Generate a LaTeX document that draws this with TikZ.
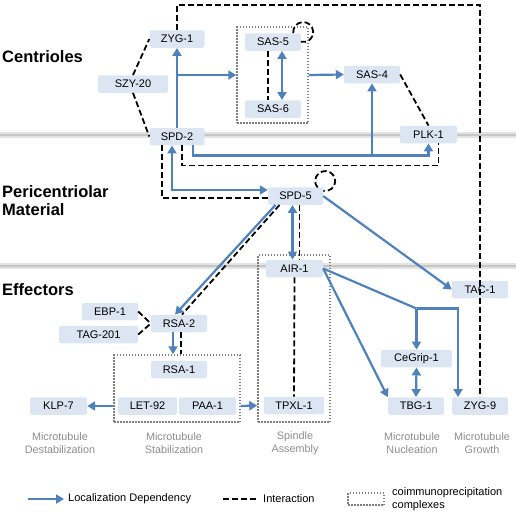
\documentclass[tikz,border=0pt]{standalone}
\usepackage{fontspec}
\setmainfont{Liberation Sans}
\usetikzlibrary{arrows.meta}
\definecolor{boxblue}{HTML}{DCE6F2}
\definecolor{arrblue}{HTML}{4F81BD}
\definecolor{lblgray}{HTML}{8C8C8C}
\definecolor{dotgray}{HTML}{7F7F7F}
\begin{document}
\begin{tikzpicture}[x=1pt,y=-1pt,
  prot/.style={fill=boxblue, rounded corners=2pt, minimum height=17.5pt, inner sep=0pt, font=\fontsize{11}{13}\selectfont},
  barrow/.style={draw=arrblue, line width=2.2pt, -{Triangle[length=8pt,width=9pt]}},
  bdarrow/.style={draw=arrblue, line width=2.2pt, {Triangle[length=8pt,width=9pt]}-{Triangle[length=8pt,width=9pt]}},
  bline/.style={draw=arrblue, line width=2.2pt, line join=miter},
  idash/.style={draw=black, line width=1.8pt, dash pattern=on 6pt off 3pt},
  cbox/.style={draw=dotgray, line width=1.5pt, dash pattern=on 1.5pt off 1.5pt},
  lbl/.style={text=lblgray, align=center, font=\fontsize{10.8}{12.8}\selectfont},
  legtxt/.style={anchor=west, inner sep=0pt, font=\fontsize{11}{13}\selectfont},
  head/.style={anchor=base west, inner sep=0pt, font=\fontsize{16.5}{18}\selectfont\bfseries}
]
\useasboundingbox (0,0) rectangle (516,517);
% bands
\foreach \yy in {135,266}{
  \draw[line width=6pt, color=gray!22] (0,\yy) -- (516,\yy);
  \draw[line width=2pt, color=gray!45] (0,\yy) -- (516,\yy);
}
% headings
\node[head] (h1) at (2,62) {Centrioles};
\node[head] (h2) at (2,197) {Pericentriolar};
\node[head] (h3) at (2,215) {Material};
\node[head] (h4) at (2,295) {Effectors};

% complex boxes
\node[cbox, minimum width=71pt, minimum height=96pt, inner sep=0pt] (sasbox) at (272.5,75) {};
\node[cbox, minimum width=126pt, minimum height=67pt, inner sep=0pt] (stabbox) at (177,388.5) {};
\node[cbox, minimum width=72pt, minimum height=167pt, inner sep=0pt] (spinbox) at (294,338.5) {};

% proteins
\node[prot, minimum width=55pt] (zyg1) at (177,39) {ZYG-1};
\node[prot, minimum width=70pt] (szy20) at (133,84) {SZY-20};
\node[prot, minimum width=55pt] (spd2) at (177,136.5) {SPD-2};
\node[prot, minimum width=56pt] (sas5) at (273,42) {SAS-5};
\node[prot, minimum width=56pt] (sas6) at (273,109) {SAS-6};
\node[prot, minimum width=56pt] (sas4) at (372,74.5) {SAS-4};
\node[prot, minimum width=57pt] (plk1) at (428.5,134.5) {PLK-1};
\node[prot, minimum width=55pt] (spd5) at (295.5,196) {SPD-5};
\node[prot, minimum width=57pt] (air1) at (294.5,268.5) {AIR-1};
\node[prot, minimum width=60pt] (tpxl1) at (294,405.5) {TPXL-1};
\node[prot, minimum width=56pt] (rsa2) at (179,323.5) {RSA-2};
\node[prot, minimum width=56pt] (ebp1) at (110,311.5) {EBP-1};
\node[prot, minimum width=79pt] (tag201) at (98.5,334.5) {TAG-201};
\node[prot, minimum width=56pt] (rsa1) at (179,369.5) {RSA-1};
\node[prot, minimum width=57pt] (klp7) at (58.5,406) {KLP-7};
\node[prot, minimum width=59pt] (let92) at (147.5,406) {LET-92};
\node[prot, minimum width=57pt] (paa1) at (207.5,406) {PAA-1};
\node[prot, minimum width=56pt] (tac1) at (480,289.5) {TAC-1};
\node[prot, minimum width=71pt] (cegrip1) at (416.5,358.5) {CeGrip-1};
\node[prot, minimum width=56pt] (tbg1) at (416,406) {TBG-1};
\node[prot, minimum width=56pt] (zyg9) at (480,406) {ZYG-9};

% interactions (dashed)
\draw[idash] (zyg1.north) -- ++(0,-25) -| (zyg9.north);
\draw[idash] (szy20.north) -- (zyg1.west);
\draw[idash] (szy20.south) -- (spd2.west);
\draw[idash] (sas4.east) -- (plk1.north);
\draw[idash] ([xshift=-5pt]sas5.south) -- ([xshift=-5pt]sas6.north);
\draw[idash] ([shift={(2pt,1pt)}]sas5.north east) ++(186:10pt) arc[start angle=186, end angle=-103, radius=10pt];
\draw[idash] ([shift={(2pt,6pt)}]spd5.north east) ++(220:10pt) arc[start angle=220, end angle=-101, radius=10pt];
\draw[idash] ([xshift=5pt]spd2.south) -- ++(0,20) -| ([xshift=10pt]plk1.south);
\draw[idash] ([xshift=-15pt]spd2.south) |- ([yshift=-2pt]spd5.west);
\draw[idash] ([xshift=4pt]spd5.south) -- ([xshift=4pt]spd5.south |- air1.north);
\draw[idash] ([xshift=-16pt]spd5.south) -- ([xshift=3pt]rsa2.north);
\draw[idash] (air1.south) -- (tpxl1.north);
\draw[idash] (ebp1.east) -- (rsa2.west);
\draw[idash] (tag201.east) -- (rsa2.west);
\draw[idash] ([xshift=2pt]rsa2.south) -- ([xshift=2pt]rsa2.south |- stabbox.north);

% localization dependencies (blue)
\draw[barrow] (spd2.north) -- (zyg1.south);
\draw[barrow] (spd2.north |- sasbox.west) -- (sasbox.west);
\draw[barrow] (sasbox.east) -- (sas4.west);
\draw[bdarrow] ([xshift=9pt]sas5.south) -- ([xshift=9pt]sas6.north);
\path ([xshift=16pt]spd2.south) ++(0,10) coordinate (hbus);
\draw[barrow] ([xshift=16pt]spd2.south) -- (hbus) -| (plk1.south);
\draw[barrow] (hbus -| sas4.south) -- (sas4.south);
\draw[bdarrow] ([xshift=-5pt]spd2.south) |- ([yshift=6pt]spd5.west);
\draw[bdarrow] ([xshift=-3pt]spd5.south) -- ([xshift=-3pt]spd5.south |- air1.north);
\draw[barrow] ([xshift=-20pt]spd5.south) -- ([xshift=-4pt]rsa2.north);
\draw[barrow] (spd5.east) -- (tac1.west);
\draw[barrow] (air1.east) -- (tbg1.north west);
\path (cegrip1.north) ++(0,-41) coordinate (aj);
\draw[bline] (air1.east) -- (aj);
\draw[barrow] (aj) -- (cegrip1.north);
\draw[barrow] (aj) -| ([xshift=-22pt]zyg9.north);
\draw[bdarrow] (cegrip1.south) -- (tbg1.north);
\draw[barrow] ([xshift=-6pt]rsa2.south) -- ([xshift=-6pt]rsa2.south |- stabbox.north);
\draw[barrow] (stabbox.west |- klp7.east) -- (klp7.east);
\draw[barrow] (stabbox.east |- paa1.east) -- (spinbox.west |- tpxl1.west);

% function labels
\node[lbl] (f1) at (60,443) {Microtubule\\Destabilization};
\node[lbl] (f2) at (174,443) {Microtubule\\Stabilization};
\node[lbl] (f3) at (295,443) {Spindle\\Assembly};
\node[lbl] (f4) at (412,443) {Microtubule\\Nucleation};
\node[lbl] (f5) at (482,443) {Microtubule\\Growth};

% legend
\coordinate (lga) at (28,499);
\coordinate (lgb) at (64,499);
\draw[barrow] (lga) -- (lgb);
\node[legtxt] (lgt1) at (68,499) {Localization Dependency};
\coordinate (lgc) at (223,499);
\coordinate (lgd) at (259,499);
\draw[idash] (lgc) -- (lgd);
\node[legtxt] (lgt2) at (263,499) {Interaction};
\node[cbox, minimum width=36pt, minimum height=12pt, inner sep=0pt] (lgbox) at (366,499) {};
\node[legtxt, align=left] (lgt3) at (392,499.5) {coimmunoprecipitation\\complexes};
\end{tikzpicture}
\end{document}
